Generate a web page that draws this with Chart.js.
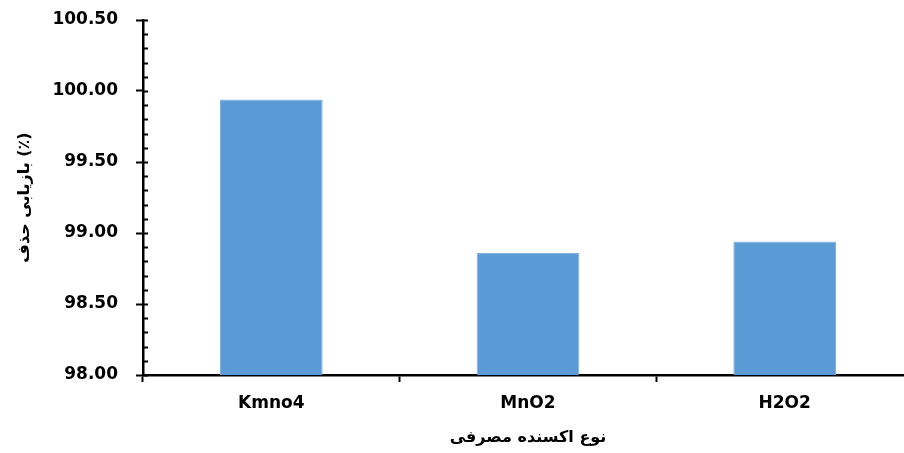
<!DOCTYPE html>
<html><head><meta charset="utf-8">
<script src="https://cdn.jsdelivr.net/npm/chart.js@4.4.1/dist/chart.umd.min.js"></script>
<style>
html,body{margin:0;padding:0;background:#fff;overflow:hidden;}
#wrap{width:913px;height:453px;position:relative;}
</style></head><body>
<div id="wrap"><canvas id="c"></canvas></div>
<script>
const categories = ["Kmno4", "MnO2", "H2O2"];
const removalRecovery = [99.94, 98.86, 98.94];
const yTitle = "بازیابی حذف (٪)";
const xTitle = "نوع اکسنده مصرفی";
const yMin = 98.0, yMax = 100.5, yMajorStep = 0.5, yMinorStep = 0.1;

const minorTicks = {
  id: 'minorTicks',
  afterDraw(chart) {
    const y = chart.scales.y, ctx = chart.ctx;
    const x0 = chart.chartArea.left;
    const n = Math.round((yMax - yMin) / yMinorStep);
    ctx.save();
    ctx.strokeStyle = '#000';
    ctx.lineWidth = 2;
    for (let i = 0; i <= n; i++) {
      const v = yMin + i * yMinorStep;
      const py = Math.round(y.getPixelForValue(v)) + 0.5;
      ctx.beginPath();
      ctx.moveTo(x0, py);
      ctx.lineTo(x0 + 5, py);
      ctx.stroke();
    }
    ctx.restore();
  }
};

new Chart(document.getElementById('c'), {
  type: 'bar',
  data: {
    labels: categories,
    datasets: [{
      data: removalRecovery,
      backgroundColor: '#5B9BD5',
      borderColor: '#7FB2E0',
      borderWidth: 1,
      barPercentage: 0.4,
      categoryPercentage: 1.0
    }]
  },
  options: {
    responsive: true,
    maintainAspectRatio: false,
    animation: false,
    layout: { padding: { top: 20, right: 0, bottom: 0, left: 0 } },
    plugins: { legend: { display: false }, tooltip: { enabled: false } },
    scales: {
      x: {
        grid: { offset: true, drawOnChartArea: false, tickLength: 7, tickColor: '#000', tickWidth: 2 },
        border: { color: '#000', width: 2.5 },
        ticks: { color: '#000', font: { family: 'DejaVu Sans', weight: 'bold', size: 17 }, padding: 11 },
        title: { display: true, text: xTitle, color: '#000', font: { family: 'DejaVu Sans', weight: 'bold', size: 16 }, padding: { top: 6, bottom: 6 } },
        afterFit(scale) { scale.height = 78; }
      },
      y: {
        min: yMin, max: yMax,
        grid: { drawOnChartArea: false, tickLength: 7, tickColor: '#000', tickWidth: 2 },
        border: { color: '#000', width: 2.5 },
        ticks: {
          stepSize: yMajorStep, color: '#000',
          font: { family: 'DejaVu Sans', weight: 'bold', size: 17 },
          padding: 18,
          callback: v => Number(v).toFixed(2)
        },
        title: { display: true, text: yTitle, color: '#000', font: { family: 'DejaVu Sans', weight: 'bold', size: 16 }, padding: { top: 15, bottom: 4 } },
        afterFit(scale) { scale.width = 143; scale.paddingTop = 0; scale.paddingBottom = 0; }
      }
    }
  },
  plugins: [minorTicks]
});
</script>
</body></html>
